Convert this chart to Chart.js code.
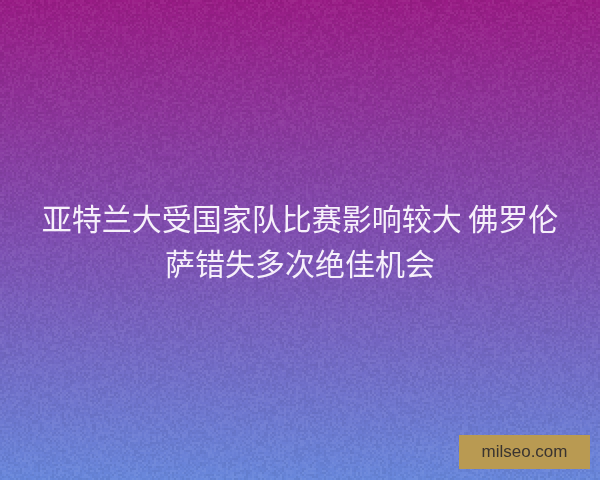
<!DOCTYPE html>
<html>
<head>
<meta charset="utf-8">
<script src="https://cdn.jsdelivr.net/npm/chart.js@4"></script>
<style>
  html, body { margin: 0; padding: 0; }
  #wrap { width: 600px; height: 480px; }
</style>
</head>
<body>
<div id="wrap"><canvas id="myChart"></canvas></div>
<script>
const titleLines = ['亚特兰大受国家队比赛影响较大 佛罗伦', '萨错失多次绝佳机会'];
const watermark = 'milseo.com';
const gradientStops = ['#9a1c86', '#7f4fb2', '#6887dc'];

// background: vertical gradient plus a light grain
const backdrop = {
    id: 'backdrop',
    beforeDraw(chart) {
        const ctx = chart.ctx;
        const w = chart.width, h = chart.height;
        ctx.save();
        const g = ctx.createLinearGradient(0, 0, 0, h);
        g.addColorStop(0, gradientStops[0]);
        g.addColorStop(0.5, gradientStops[1]);
        g.addColorStop(1, gradientStops[2]);
        ctx.fillStyle = g;
        ctx.fillRect(0, 0, w, h);
        let seed = 7;
        const rnd = () => { seed = (seed * 16807) % 2147483647; return seed / 2147483647; };
        for (let y = 0; y < h; y += 2) {
            for (let x = 0; x < w; x += 2) {
                const v = rnd();
                ctx.fillStyle = v > 0.5 ? 'rgba(255,255,255,' + ((v - 0.5) * 0.12) + ')' : 'rgba(0,0,0,' + ((0.5 - v) * 0.12) + ')';
                ctx.fillRect(x, y, 2, 2);
            }
        }
        ctx.restore();
    },
    afterDraw(chart) {
        const ctx = chart.ctx;
        ctx.save();
        ctx.fillStyle = '#b99a52';
        ctx.fillRect(459, 435, 131, 34);
        ctx.fillStyle = '#3a3430';
        ctx.font = '17px "Liberation Sans", Arial, sans-serif';
        ctx.textAlign = 'center';
        ctx.textBaseline = 'middle';
        ctx.fillText(watermark, 524.5, 452.5);
        ctx.restore();
    }
};

let chartArea = document.getElementById('myChart');
new Chart(chartArea, {
    type: 'bar',
    data: { labels: [], datasets: [] },
    options: {
        responsive: true,
        maintainAspectRatio: false,
        animation: false,
        layout: { padding: 0 },
        scales: { x: { display: false }, y: { display: false } },
        plugins: {
            legend: { display: false },
            tooltip: { enabled: false },
            title: {
                display: true,
                text: titleLines,
                color: '#f6f0fa',
                font: { family: '"Noto Sans CJK SC", sans-serif', size: 30, weight: 'normal', lineHeight: 1.5 },
                padding: { top: 196, bottom: 0 }
            }
        }
    },
    plugins: [backdrop]
});
</script>
</body>
</html>
